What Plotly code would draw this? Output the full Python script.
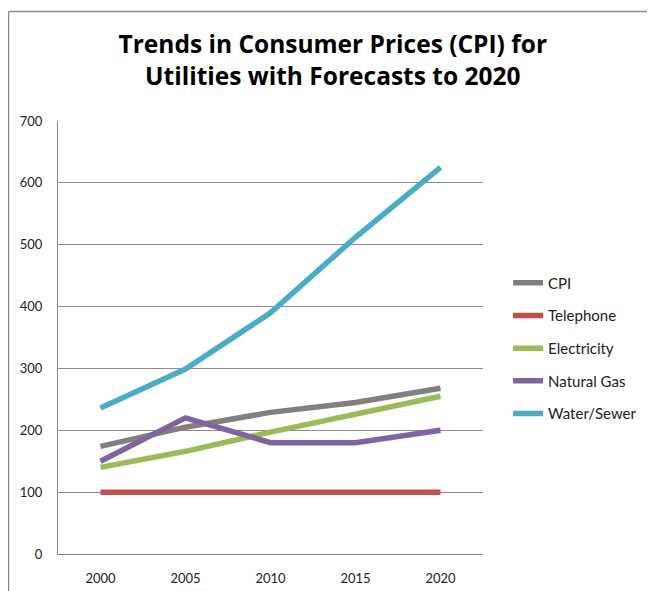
import plotly.graph_objects as go

years = ["2000", "2005", "2010", "2015", "2020"]
cpi = [174, 205, 229, 245, 268]
telephone = [100, 100, 100, 100, 100]
electricity = [140, 166, 197, 225, 255]
natural_gas = [150, 220, 180, 180, 200]
water_sewer = [236, 299, 390, 512, 625]

series_names = ["CPI", "Telephone", "Electricity", "Natural Gas", "Water/Sewer"]
series_values = [cpi, telephone, electricity, natural_gas, water_sewer]
colors = ["#808080", "#C0504D", "#9BBB59", "#8064A2", "#4BACC6"]

FONT = "Lato, Carlito, Calibri, 'Open Sans', sans-serif"
TITLE_FONT = "'Open Sans', Lato, sans-serif"

fig = go.Figure()
for name, vals, col in zip(series_names, series_values, colors):
    fig.add_trace(go.Scatter(
        x=years, y=vals, name=name, mode="lines",
        line=dict(color=col, width=5.5),
        legendgroup=name,
    ))

fig.update_layout(
    width=647, height=583,
    margin=dict(l=50, r=172, t=113, b=37, autoexpand=False),
    paper_bgcolor="white", plot_bgcolor="white",
    font=dict(family=FONT, size=13, color="#222"),
    title=dict(
        text="Trends in Consumer Prices (CPI) for<br>Utilities with Forecasts to 2020",
        x=0.502, xanchor="center", y=0.923, yanchor="top",
        font=dict(family=TITLE_FONT, size=24.5, color="black", weight="bold"),
    ),
    showlegend=True,
    legend=dict(
        x=1.059, xanchor="left", y=0.664, yanchor="top",
        font=dict(family=FONT, size=15, color="#222"),
        traceorder="grouped", tracegroupgap=10.2,
        bgcolor="rgba(0,0,0,0)",
    ),
    xaxis=dict(
        type="category", range=[-0.5, 4.5],
        showgrid=False, showline=True, linecolor="#888", linewidth=1,
        ticks="", tickfont=dict(size=13, color="#222"),
        ticklabelstandoff=12, automargin=False,
        zeroline=False,
    ),
    yaxis=dict(
        range=[0, 700], tick0=0, dtick=100,
        showgrid=True, gridcolor="#8c8c8c", gridwidth=1,
        showline=True, linecolor="#888", linewidth=1,
        ticks="", tickfont=dict(size=13, color="#222"),
        ticklabelstandoff=12, automargin=False,
        zeroline=False,
    ),
    shapes=[
        dict(type="line", xref="paper", yref="paper",
             x0=-0.1165, x1=-0.1165, y0=-0.2, y1=1.253,
             line=dict(color="#8a8a8a", width=1.5)),
        dict(type="line", xref="paper", yref="paper",
             x0=-0.1165, x1=1.6, y0=1.253, y1=1.253,
             line=dict(color="#8a8a8a", width=1.5)),
    ],
)

fig.write_html("out.html")
